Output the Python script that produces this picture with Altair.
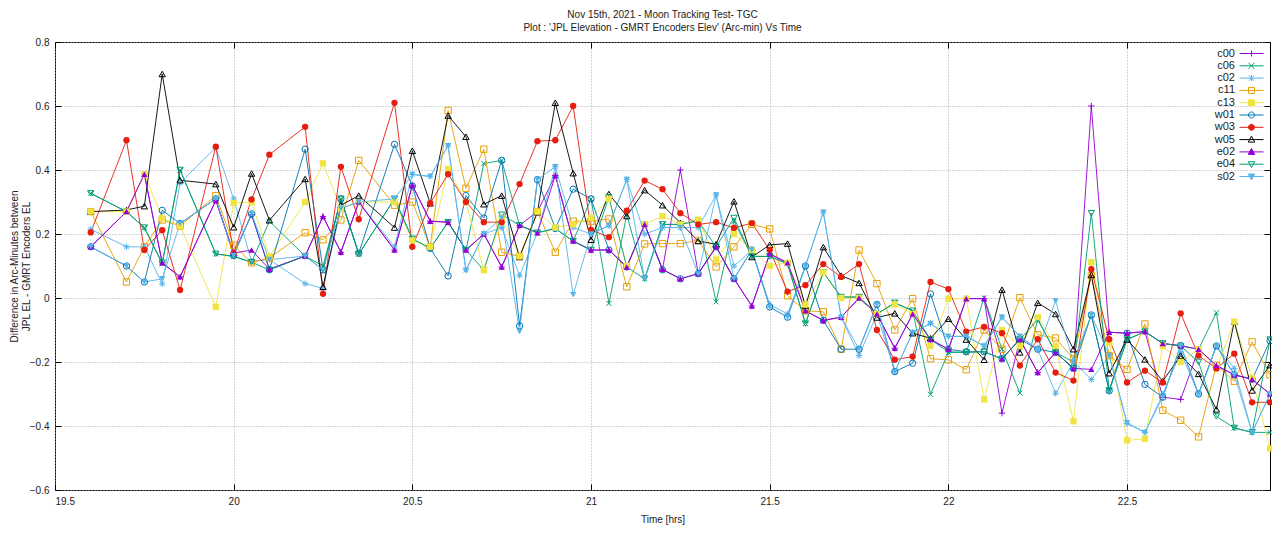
import altair as alt
import pandas as pd

TIMES = [19.6, 19.7, 19.75, 19.8, 19.85, 19.95, 20.0, 20.05, 20.1, 20.2,
         20.25, 20.3, 20.35, 20.45, 20.5, 20.55, 20.6, 20.65, 20.7, 20.75,
         20.8, 20.85, 20.9, 20.95, 21.0, 21.05, 21.1, 21.15, 21.2, 21.25,
         21.3, 21.35, 21.4, 21.45, 21.5, 21.55, 21.6, 21.65, 21.7, 21.75,
         21.8, 21.85, 21.9, 21.95, 22.0, 22.05, 22.1, 22.15, 22.2, 22.25,
         22.3, 22.35, 22.4, 22.45, 22.5, 22.55, 22.6, 22.65, 22.7, 22.75,
         22.8, 22.85, 22.9]

c00 = [0.16, 0.27, 0.387, 0.11, 0.066, 0.305, 0.14, 0.26, 0.09, 0.131,
       0.255, 0.143, 0.30, 0.15, 0.352, 0.24, 0.237, 0.15, 0.20, 0.097,
       0.227, 0.27, 0.383, 0.178, 0.15, 0.15, 0.097, 0.23, 0.09, 0.40,
       0.076, 0.16, 0.06, -0.025, 0.138, 0.11, -0.04, -0.07, -0.06, 0.0,
       -0.05, -0.157, -0.05, -0.13, -0.16, -0.002, -0.002, -0.36, -0.129, -0.233,
       -0.17, -0.22, 0.60, -0.107, -0.11, -0.105, -0.31, -0.317, -0.16, -0.211,
       -0.24, -0.254, -0.30]
c06 = [0.327, 0.27, 0.22, 0.107, 0.40, 0.138, 0.13, 0.112, 0.24, 0.131,
       0.10, 0.31, 0.137, 0.31, 0.185, 0.155, 0.237, 0.15, 0.42, 0.43,
       0.227, 0.204, 0.217, 0.178, 0.31, -0.017, 0.26, 0.06, 0.23, 0.23,
       0.245, -0.012, 0.24, 0.13, 0.13, 0.107, -0.08, 0.08, 0.003, 0.003,
       -0.05, -0.015, -0.04, -0.301, -0.17, -0.17, 0.0, -0.16, -0.297, -0.067,
       -0.17, -0.20, -0.053, -0.289, -0.13, -0.105, -0.142, -0.15, -0.16, -0.046,
       -0.406, -0.42, -0.42]
c02 = [0.215, 0.16, 0.16, 0.044, 0.36, 0.47, 0.31, 0.115, 0.12, 0.045,
       0.03, 0.28, 0.30, 0.16, 0.386, 0.38, 0.476, 0.087, 0.20, 0.22,
       0.07, 0.204, 0.41, 0.22, 0.20, 0.226, 0.37, 0.20, 0.22, 0.22,
       0.22, 0.322, 0.10, 0.15, -0.02, -0.05, 0.10, 0.268, -0.06, -0.18,
       -0.05, -0.23, -0.108, -0.08, -0.12, -0.12, -0.15, -0.06, -0.12, -0.16,
       -0.298, -0.20, -0.255, -0.18, -0.392, -0.42, -0.30, -0.17, -0.30, -0.15,
       -0.22, -0.42, -0.30]
c11 = [0.27, 0.05, 0.16, 0.244, 0.225, 0.32, 0.165, 0.11, 0.126, 0.204,
       0.182, 0.244, 0.43, 0.29, 0.30, 0.16, 0.586, 0.343, 0.465, 0.143,
       0.13, 0.27, 0.143, 0.24, 0.24, 0.247, 0.035, 0.169, 0.17, 0.17,
       0.18, 0.097, 0.16, 0.23, 0.216, 0.007, -0.04, -0.043, -0.16, 0.15,
       0.045, -0.10, -0.002, -0.19, -0.193, -0.224, -0.10, -0.16, 0.001, -0.115,
       -0.125, -0.19, 0.07, -0.18, -0.223, -0.081, -0.351, -0.382, -0.434, -0.21,
       -0.26, -0.137, -0.24]
c13 = [0.27, 0.27, 0.387, 0.25, 0.225, -0.028, 0.297, 0.30, 0.13, 0.30,
       0.421, 0.28, 0.30, 0.30, 0.18, 0.16, 0.403, 0.30, 0.087, 0.25,
       0.13, 0.27, 0.22, 0.23, 0.25, 0.31, 0.10, 0.23, 0.256, 0.23,
       0.245, 0.12, 0.20, 0.15, 0.10, 0.11, -0.02, 0.08, 0.0, 0.0,
       -0.05, -0.02, -0.05, -0.15, -0.002, -0.002, -0.317, -0.10, -0.15, -0.06,
       -0.15, -0.385, 0.112, -0.14, -0.445, -0.44, -0.15, -0.20, -0.16, -0.22,
       -0.074, -0.25, -0.47]
w01 = [0.16, 0.10, 0.05, 0.274, 0.233, 0.31, 0.133, 0.263, 0.088, 0.465,
       0.088, 0.31, 0.14, 0.48, 0.35, 0.155, 0.069, 0.32, 0.25, 0.43,
       -0.087, 0.37, 0.217, 0.34, 0.31, 0.15, 0.097, 0.23, 0.088, 0.06,
       0.076, 0.16, 0.06, 0.15, -0.028, -0.06, 0.10, -0.07, -0.16, -0.16,
       -0.02, -0.23, -0.204, 0.013, -0.16, -0.168, -0.168, -0.19, -0.129, -0.16,
       -0.17, -0.22, -0.053, -0.29, -0.11, -0.27, -0.31, -0.149, -0.30, -0.15,
       -0.24, -0.254, -0.134]
w03 = [0.205, 0.493, 0.15, 0.212, 0.025, 0.473, 0.14, 0.308, 0.448, 0.535,
       0.013, 0.41, 0.246, 0.61, 0.16, 0.296, 0.387, 0.30, 0.237, 0.237,
       0.356, 0.49, 0.493, 0.60, 0.213, 0.19, 0.273, 0.367, 0.34, 0.265,
       0.23, 0.237, 0.219, 0.234, 0.15, 0.02, 0.04, 0.106, 0.066, 0.106,
       -0.10, -0.193, -0.183, 0.05, 0.028, -0.105, -0.09, -0.11, -0.211, -0.129,
       -0.233, -0.258, 0.09, -0.129, -0.264, -0.227, -0.264, -0.048, -0.18, -0.22,
       -0.174, -0.326, -0.326]
w05 = [0.27, 0.275, 0.287, 0.70, 0.368, 0.356, 0.221, 0.389, 0.243, 0.372,
       0.035, 0.29, 0.32, 0.22, 0.46, 0.296, 0.57, 0.504, 0.293, 0.32,
       0.128, 0.268, 0.61, 0.39, 0.182, 0.325, 0.256, 0.337, 0.29, 0.235,
       0.178, 0.168, 0.302, 0.128, 0.166, 0.17, -0.025, 0.159, 0.07, 0.047,
       -0.061, -0.048, -0.11, -0.126, -0.065, -0.13, -0.193, 0.026, -0.17, -0.015,
       -0.05, -0.16, 0.072, -0.235, -0.13, -0.192, -0.26, -0.18, -0.237, -0.348,
       -0.074, -0.289, -0.21]
e02 = [0.16, 0.27, 0.387, 0.11, 0.066, 0.305, 0.14, 0.15, 0.09, 0.131,
       0.255, 0.143, 0.30, 0.15, 0.352, 0.24, 0.237, 0.15, 0.20, 0.097,
       0.227, 0.204, 0.383, 0.178, 0.15, 0.15, 0.097, 0.23, 0.09, 0.06,
       0.076, 0.16, 0.06, -0.025, 0.138, 0.11, -0.04, -0.07, -0.06, 0.0,
       -0.05, -0.157, -0.05, -0.13, -0.16, -0.002, -0.002, -0.19, -0.129, -0.233,
       -0.17, -0.22, -0.223, -0.107, -0.11, -0.105, -0.142, -0.149, -0.16, -0.211,
       -0.24, -0.254, -0.30]
e04 = [0.327, 0.27, 0.22, 0.11, 0.40, 0.138, 0.13, 0.112, 0.088, 0.131,
       0.088, 0.31, 0.137, 0.31, 0.185, 0.155, 0.237, 0.15, 0.087, 0.26,
       0.227, 0.204, 0.217, 0.178, 0.15, 0.315, 0.097, 0.06, 0.23, 0.23,
       0.24, 0.16, 0.25, 0.13, 0.13, 0.107, -0.08, 0.08, 0.003, 0.003,
       -0.05, -0.015, -0.04, -0.13, -0.168, -0.17, -0.168, -0.19, -0.13, -0.067,
       -0.17, -0.22, 0.265, -0.289, -0.13, -0.105, -0.142, -0.15, -0.20, -0.37,
       -0.406, -0.42, -0.13]
s02 = [0.16, 0.10, 0.05, 0.06, 0.233, 0.31, 0.133, 0.263, 0.12, 0.131,
       0.088, 0.28, 0.30, 0.31, 0.386, 0.38, 0.476, 0.087, 0.20, 0.25,
       -0.105, 0.37, 0.41, 0.01, 0.20, 0.226, 0.37, 0.06, 0.22, 0.22,
       0.075, 0.322, 0.06, 0.15, -0.028, -0.06, 0.10, 0.268, -0.06, -0.16,
       -0.02, -0.23, -0.108, -0.08, -0.12, -0.12, -0.15, -0.06, -0.12, -0.16,
       -0.009, -0.20, -0.053, -0.18, -0.39, -0.42, -0.31, -0.15, -0.30, -0.15,
       -0.24, -0.42, -0.30]

NAMES = ["c00", "c06", "c02", "c11", "c13", "w01", "w03", "w05", "e02", "e04", "s02"]
VALUES = [c00, c06, c02, c11, c13, w01, w03, w05, e02, e04, s02]
COLORS = ["#9400d3", "#009e73", "#56b4e9", "#e69f00", "#f0e442", "#0072b2",
          "#e51e10", "#000000", "#9400d3", "#009e73", "#56b4e9"]
FILLED = ["c13", "w03", "e02", "s02"]
OPEN = [n for n in NAMES if n not in FILLED]

X_TICKS = [19.5, 20, 20.5, 21, 21.5, 22, 22.5]
Y_TICKS = [-0.6, -0.4, -0.2, 0, 0.2, 0.4, 0.6, 0.8]

# plot markers (unit coordinates)
PLUS = "M-1,0H1M0,-1V1"
CROSS = "M-0.8,-0.8L0.8,0.8M-0.8,0.8L0.8,-0.8"
STAR = "M-1,0H1M0,-1V1M-0.75,-0.75L0.75,0.75M-0.75,0.75L0.75,-0.75"
SHAPES = [PLUS, CROSS, STAR, "square", "square", "circle", "circle",
          "triangle-up", "triangle-up", "triangle-down", "triangle-down"]

# legend samples: a line segment (drawn right of the label) with the marker on it
L = "M2,0H6.8"
LG_SQ = L + "M3.8,-0.6H5V0.6H3.8Z"
LG_CI = L + "M5,0A0.6,0.6,0,1,1,3.8,0A0.6,0.6,0,1,1,5,0Z"
LG_TU = L + "M4.4,-0.68L5.05,0.5H3.75Z"
LG_TD = L + "M4.4,0.68L5.05,-0.5H3.75Z"
LEGEND_SHAPES = [L + "M4.4,-0.6V0.6",
                 L + "M3.8,-0.6L5,0.6M3.8,0.6L5,-0.6",
                 L + "M4.4,-0.6V0.6M3.85,-0.55L4.95,0.55M3.85,0.55L4.95,-0.55",
                 LG_SQ, LG_SQ, LG_CI, LG_CI, LG_TU, LG_TU, LG_TD, LG_TD]
LEGEND_FILLS = [c if n in FILLED else "transparent" for n, c in zip(NAMES, COLORS)]

rows = []
for name, vals in zip(NAMES, VALUES):
    for t, v in zip(TIMES, vals):
        rows.append({"time": t, "diff": v, "series": name})
df = pd.DataFrame(rows)

FONT = "Liberation Sans"
xscale = alt.Scale(domain=[19.5, 22.9], nice=False, zero=False)
yscale = alt.Scale(domain=[-0.6, 0.8], nice=False, zero=False)
cscale = alt.Scale(domain=NAMES, range=COLORS)
sscale = alt.Scale(domain=NAMES, range=SHAPES)

base = alt.Chart(df)

x_main = alt.X("time:Q", scale=xscale, axis=alt.Axis(
    orient="bottom", values=X_TICKS, format=".1~f", offset=-6, tickSize=6,
    tickColor="black", domain=False, grid=True, gridDash=[1, 2],
    gridColor="#a8a8a8", labelFont=FONT, labelFontSize=10, labelColor="#222",
    labelPadding=6, title="Time [hrs]", titleFont=FONT, titleFontSize=10,
    titleFontWeight="normal", titleColor="#222", titlePadding=8))
y_main = alt.Y("diff:Q", scale=yscale, axis=alt.Axis(
    orient="left", values=Y_TICKS, format=".1~f", offset=-6, tickSize=6,
    tickColor="black", domain=False, grid=True, gridDash=[1, 2],
    gridColor="#a8a8a8", labelFont=FONT, labelFontSize=10, labelColor="#222",
    labelPadding=6,
    title=["Difference in Arc-Minutes between", "JPL EL - GMRT Encoders EL"],
    titleFont=FONT, titleFontSize=10, titleFontWeight="normal",
    titleColor="#222", titleX=-42, titleY=224, titleLineHeight=12))

lines = base.mark_line(strokeWidth=1, opacity=0.9).encode(
    x=x_main, y=y_main,
    color=alt.Color("series:N", scale=cscale, legend=None),
    detail="series:N",
)

open_pts = base.transform_filter(
    alt.FieldOneOfPredicate(field="series", oneOf=OPEN)
).mark_point(filled=False, size=40, strokeWidth=1, opacity=1).encode(
    x=alt.X("time:Q", scale=xscale, axis=None),
    y=alt.Y("diff:Q", scale=yscale, axis=None),
    color=alt.Color("series:N", scale=cscale, legend=None),
    shape=alt.Shape("series:N", scale=sscale, legend=None),
)

filled_pts = base.transform_filter(
    alt.FieldOneOfPredicate(field="series", oneOf=FILLED)
).mark_point(filled=True, size=40, opacity=1).encode(
    x=alt.X("time:Q", scale=xscale, axis=None),
    y=alt.Y("diff:Q", scale=yscale, axis=None),
    color=alt.Color("series:N", scale=cscale, legend=None),
    shape=alt.Shape("series:N", scale=sscale, legend=None),
)

leg = alt.Legend(orient="none", legendX=1169, legendY=6, title=None,
                 labelAlign="right", labelOffset=0, symbolSize=100,
                 symbolStrokeWidth=1, rowPadding=0.3, padding=0,
                 labelFont=FONT, labelFontSize=11, labelColor="#222")

legend_layer = base.transform_filter("false").mark_point(
    filled=False, size=100, strokeWidth=1, opacity=1).encode(
    x=alt.X("time:Q", scale=xscale, axis=alt.Axis(
        orient="top", values=X_TICKS, offset=-6, tickSize=6, tickColor="black",
        labels=False, domain=False, grid=False, title=None)),
    y=alt.Y("diff:Q", scale=yscale, axis=alt.Axis(
        orient="right", values=Y_TICKS, offset=-6, tickSize=6, tickColor="black",
        labels=False, domain=False, grid=False, title=None)),
    color=alt.Color("series:N", scale=cscale, legend=leg),
    shape=alt.Shape("series:N", scale=alt.Scale(domain=NAMES, range=LEGEND_SHAPES), legend=leg),
    fill=alt.Fill("series:N", scale=alt.Scale(domain=NAMES, range=LEGEND_FILLS), legend=leg),
)

chart = alt.layer(lines, open_pts, filled_pts, legend_layer).resolve_scale(
    color="independent", shape="independent", fill="independent"
).resolve_axis(
    x="independent", y="independent"
).properties(
    width=1215, height=448,
    autosize=alt.AutoSizeParams(type="none"),
    padding={"left": 47, "top": 34, "right": 2, "bottom": 35},
    title=alt.TitleParams(
        text="Nov 15th, 2021 - Moon Tracking Test- TGC",
        subtitle="Plot : 'JPL Elevation - GMRT Encoders Elev' (Arc-min) Vs Time",
        font=FONT, fontSize=10, fontWeight="normal", color="#222",
        subtitleFont=FONT, subtitleFontSize=10, subtitleColor="#222",
        subtitlePadding=3, anchor="middle", offset=4),
).configure_view(stroke="black", strokeWidth=1)

chart.save("out.html", embed_options={"renderer": "svg", "actions": False})
